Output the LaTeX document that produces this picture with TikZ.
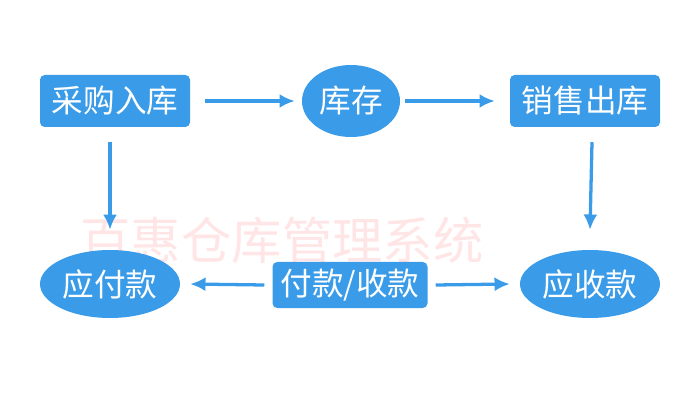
\documentclass[tikz,border=0pt]{standalone}
\usepackage{fontspec}
\setmainfont{Noto Sans CJK SC}
\usetikzlibrary{shapes.geometric, arrows.meta}
\definecolor{flowblue}{HTML}{3A9BE8}
\tikzset{
  box/.style={rectangle, rounded corners=4pt, fill=flowblue, text=white, minimum height=52*0.03cm, inner xsep=3pt, font=\fontsize{27}{30}\selectfont},
  oval/.style={ellipse, fill=flowblue, text=white, inner sep=0pt, font=\fontsize{27}{30}\selectfont},
  flow/.style={draw=flowblue, line width=2.8pt, -{Latex[length=13pt, width=12pt]}}
}
\begin{document}
\begin{tikzpicture}[x=0.03cm, y=-0.03cm]
  \useasboundingbox (0, 0) rectangle (700, 400);
  \node at (282, 240) [text=red!10, font=\fontsize{43}{46}\selectfont] {百惠仓库管理系统};
  \node (buy) at (115, 101) [box, minimum width=150*0.03cm] {采购入库};
  \node (stock) at (351, 101) [oval, minimum width=98*0.03cm, minimum height=72*0.03cm] {库存};
  \node (sell) at (585, 101) [box, minimum width=150*0.03cm] {销售出库};
  \node (payable) at (110, 284) [oval, minimum width=140*0.03cm, minimum height=68*0.03cm] {应付款};
  \node (pay) at (350, 285) [box, minimum width=155*0.03cm, minimum height=46*0.03cm] {付款/收款};
  \node (receivable) at (590, 284) [oval, minimum width=140*0.03cm, minimum height=68*0.03cm] {应收款};
  \draw[flow] (buy.east) ++(15, 0) -- ([xshift=-7*0.03cm]stock.west);
  \draw[flow] (stock.east) ++(5, 0) -- ([xshift=-15*0.03cm]sell.west);
  \draw[flow] (buy.south) ++(-5, 15) -- ([yshift=20*0.03cm]payable.north);
  \draw[flow] (sell.south) ++(7, 15) -- ([yshift=20*0.03cm]receivable.north);
  \draw[flow] (pay.west) ++(-8, 0) -- ([xshift=10*0.03cm]payable.east);
  \draw[flow] (pay.east) ++(8, 0) -- ([xshift=-10*0.03cm]receivable.west);
\end{tikzpicture}
\end{document}
